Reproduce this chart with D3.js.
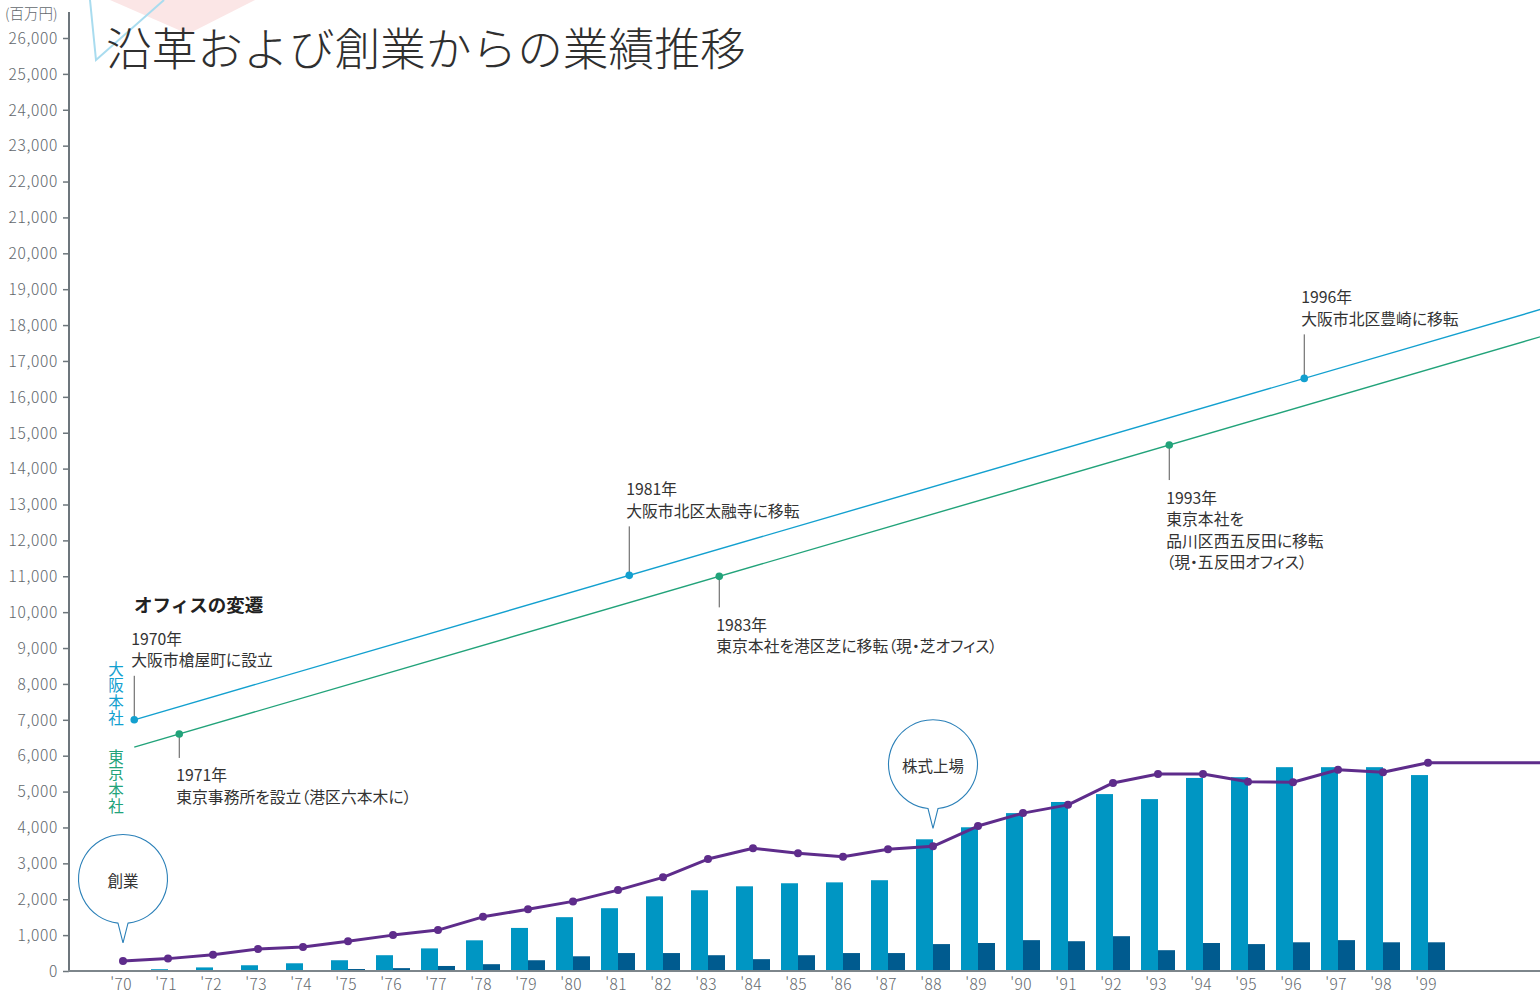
<!DOCTYPE html>
<html lang="ja">
<head>
<meta charset="utf-8">
<script src="https://cdn.jsdelivr.net/npm/d3@7"></script>
<style>
  html, body { margin: 0; padding: 0; background: #fff; }
  svg { display: block; font-family: "Noto Sans CJK JP", "Noto Sans", sans-serif; }
  .note { font-feature-settings: "palt"; }
</style>
</head>
<body>
<svg id="chart" width="1540" height="996"></svg>
<script>
// Fiscal years on the horizontal axis
const categories = ["'70","'71","'72","'73","'74","'75","'76","'77","'78","'79",
                    "'80","'81","'82","'83","'84","'85","'86","'87","'88","'89",
                    "'90","'91","'92","'93","'94","'95","'96","'97","'98","'99"];

// Light blue bars (百万円)
const seriesLight = [20, 50, 100, 160, 215, 300, 440, 630, 855, 1200,
                     1500, 1750, 2080, 2250, 2360, 2445, 2470, 2530, 3670, 4005,
                     4400, 4710, 4930, 4790, 5380, 5400, 5680, 5680, 5680, 5460];

// Dark blue bars (百万円)
const seriesDark = [10, 15, 20, 25, 25, 55, 80, 140, 190, 300,
                    410, 500, 500, 440, 330, 440, 500, 500, 750, 780,
                    860, 830, 970, 580, 780, 750, 800, 860, 800, 800];

// Purple line (百万円)
const seriesLine = [280, 345, 455, 615, 670, 830, 1000, 1140, 1510, 1720,
                    1940, 2255, 2610, 3120, 3420, 3280, 3185, 3390, 3475, 4040,
                    4400, 4630, 5240, 5490, 5490, 5275, 5260, 5610, 5540, 5805];

// Vertical axis ticks
const yTicks = [0, 1000, 2000, 3000, 4000, 5000, 6000, 7000, 8000, 9000, 10000,
                11000, 12000, 13000, 14000, 15000, 16000, 17000, 18000, 19000, 20000,
                21000, 22000, 23000, 24000, 25000, 26000];

// Office history timelines: [year, height on the value scale] at both ends
const osakaLine = [[1970, 7000], [2002, 18710]];
const tokyoLine = [[1970, 6240], [2002, 17950]];

// Office moves
const officeEvents = [
  { year: 1970, office: "osaka", lines: ["1970年", "大阪市槍屋町に設立"] },
  { year: 1971, office: "tokyo", lines: ["1971年", "東京事務所を設立（港区六本木に）"] },
  { year: 1981, office: "osaka", lines: ["1981年", "大阪市北区太融寺に移転"] },
  { year: 1983, office: "tokyo", lines: ["1983年", "東京本社を港区芝に移転（現・芝オフィス）"] },
  { year: 1993, office: "tokyo", lines: ["1993年", "東京本社を", "品川区西五反田に移転", "（現・五反田オフィス）"] },
  { year: 1996, office: "osaka", lines: ["1996年", "大阪市北区豊崎に移転"] }
];

// Milestone bubbles attached to a category
const milestones = [
  { category: "'70", label: "創業" },
  { category: "'88", label: "株式上場" }
];

// ---- layout & style ----
const W = 1540, H = 996;
const axisX = 69, baseY = 971;
const C = {
  light: "#0096c3", dark: "#005b8f", line: "#5e2c8b",
  osaka: "#13a0cf", tokyo: "#22a37a",
  axis: "#6d767c", tick: "#62686d", text: "#333333",
  bubble: "#2b80b8"
};
const leaderLen = { 1970: 44, 1971: 24, 1981: 49, 1983: 31, 1993: 35, 1996: 44 };

const svg = d3.select("#chart");

// decorative header shapes
svg.append("polygon")
  .attr("points", [[110, 0], [255, 0], [188, 34]].map(p => p.join(",")).join(" "))
  .attr("fill", "#fbe6e6");
svg.append("polyline")
  .attr("points", [[90, 0], [96, 60], [164, 0]].map(p => p.join(",")).join(" "))
  .attr("fill", "none").attr("stroke", "#a9dcef").attr("stroke-width", 2);

// scales
const y = d3.scaleLinear().domain([0, 26000]).range([baseY, 38]);
const step = 45;
const x = d3.scaleBand().domain(categories)
  .range([100.5, 100.5 + step * categories.length])
  .paddingInner(11 / 45).paddingOuter(11 / 90);
const sub = d3.scaleBand().domain(["light", "dark"]).range([0, x.bandwidth()]);
const xc = c => x(c) + x.bandwidth() / 2;
const timeX = d3.scaleLinear().domain([1970, 1999])
  .range([xc("'70") + 0.25 * step, xc("'99") + 0.25 * step]);

// title
svg.append("text")
  .attr("x", 106).attr("y", 46)
  .attr("dominant-baseline", "central")
  .attr("font-size", 45.7).attr("font-weight", 300)
  .attr("fill", "#2f2f2f")
  .text("沿革および創業からの業績推移");

// unit
svg.append("text")
  .attr("x", 5).attr("y", 12)
  .attr("dominant-baseline", "central")
  .attr("font-size", 14.5).attr("font-weight", 300).attr("fill", C.tick)
  .text("(百万円)");

// bars
const barG = svg.append("g");
categories.forEach((c, i) => {
  barG.append("rect")
    .attr("x", x(c) + sub("light")).attr("width", sub.bandwidth())
    .attr("y", y(seriesLight[i])).attr("height", baseY - y(seriesLight[i]))
    .attr("fill", C.light);
  barG.append("rect")
    .attr("x", x(c) + sub("dark")).attr("width", sub.bandwidth())
    .attr("y", y(seriesDark[i])).attr("height", baseY - y(seriesDark[i]))
    .attr("fill", C.dark);
});

// y axis
const yAxis = d3.axisLeft(y).tickValues(yTicks).tickSize(6).tickPadding(5)
  .tickFormat(d3.format(","));
const yg = svg.append("g").attr("transform", `translate(${axisX},0)`).call(yAxis);
yg.select(".domain").remove();
yg.selectAll(".tick line").attr("stroke", C.axis).attr("stroke-width", 1.5);
yg.selectAll(".tick text")
  .attr("fill", C.tick).attr("font-size", 15.5).attr("font-weight", 300)
  .attr("letter-spacing", 0.7)
  .attr("font-family", "'Noto Sans CJK JP', sans-serif")
  .attr("dy", "0.34em");
svg.append("line")
  .attr("x1", axisX).attr("x2", axisX)
  .attr("y1", y(0)).attr("y2", y(26000) - 26)
  .attr("stroke", C.axis).attr("stroke-width", 2);

// x axis
svg.append("line")
  .attr("x1", axisX - 1).attr("x2", W)
  .attr("y1", baseY).attr("y2", baseY)
  .attr("stroke", "#7d868b").attr("stroke-width", 2);
const xAxis = d3.axisBottom(x).tickSize(0).tickPadding(8);
const xg = svg.append("g").attr("transform", `translate(0,${baseY})`).call(xAxis);
xg.select(".domain").remove();
xg.selectAll(".tick text")
  .attr("fill", C.tick).attr("font-size", 15.5).attr("font-weight", 300)
  .attr("letter-spacing", 0.4)
  .attr("font-family", "'Noto Sans CJK JP', sans-serif")
  .attr("transform", "translate(-2,0)");

// purple line, continued flat to the right edge
const pts = categories.map((c, i) => [xc(c), y(seriesLine[i])]);
const linePts = pts.concat([[W, pts[pts.length - 1][1]]]);
svg.append("path")
  .attr("d", d3.line()(linePts))
  .attr("fill", "none").attr("stroke", C.line).attr("stroke-width", 3)
  .attr("stroke-linejoin", "round");
svg.append("g").selectAll("circle").data(pts).join("circle")
  .attr("cx", d => d[0]).attr("cy", d => d[1]).attr("r", 4)
  .attr("fill", C.line);

// office timelines
const lines = { osaka: osakaLine, tokyo: tokyoLine };
const lineAt = (office, yr) => {
  const [[y0, v0], [y1, v1]] = lines[office];
  return v0 + (v1 - v0) * (yr - y0) / (y1 - y0);
};
Object.entries(lines).forEach(([k, seg]) => {
  svg.append("line")
    .attr("x1", timeX(seg[0][0])).attr("y1", y(seg[0][1]))
    .attr("x2", timeX(seg[1][0])).attr("y2", y(seg[1][1]))
    .attr("stroke", C[k]).attr("stroke-width", 1.4);
});

svg.append("text")
  .attr("x", 134).attr("y", 604)
  .attr("dominant-baseline", "central")
  .attr("font-size", 18.5).attr("font-weight", 700).attr("fill", "#222")
  .text("オフィスの変遷");

// vertical office names
[["大阪本社", "osaka", 661], ["東京本社", "tokyo", 749]].forEach(([name, k, top]) => {
  svg.append("text")
    .attr("x", 116).attr("y", top)
    .attr("writing-mode", "vertical-rl")
    .style("text-orientation", "upright")
    .attr("letter-spacing", 1)
    .attr("font-size", 15.5).attr("fill", C[k])
    .text(name);
});

officeEvents.forEach(ev => {
  const cx = timeX(ev.year), cy = y(lineAt(ev.office, ev.year));
  const up = ev.office === "osaka";
  const len = leaderLen[ev.year];
  const end = up ? cy - len : cy + len;
  svg.append("line")
    .attr("x1", cx).attr("x2", cx).attr("y1", cy).attr("y2", end)
    .attr("stroke", "#555").attr("stroke-width", 1);
  svg.append("circle").attr("cx", cx).attr("cy", cy).attr("r", 3.8).attr("fill", C[ev.office]);
  const lh = 21.5;
  const n = ev.lines.length;
  ev.lines.forEach((s, i) => {
    const ty = up ? end - 16 - (n - 1 - i) * lh : end + 17 + i * lh;
    svg.append("text")
      .attr("class", "note")
      .attr("x", cx - 3).attr("y", ty)
      .attr("dominant-baseline", "central")
      .attr("font-size", 15.8).attr("fill", C.text)
      .text(s);
  });
});

// milestone bubbles
milestones.forEach(m => {
  const i = categories.indexOf(m.category);
  const tipX = xc(m.category), tipY = y(seriesLine[i]) - 18;
  const r = 44.5, cyB = tipY - 64, hw = 5;
  const by = cyB + Math.sqrt(r * r - hw * hw);
  const aL = Math.atan2(by - cyB, -hw), aR = Math.atan2(by - cyB, hw);
  const p = d3.path();
  p.moveTo(tipX, tipY);
  p.lineTo(tipX - hw, by);
  p.arc(tipX, cyB, r, aL, aR + 2 * Math.PI, false);
  p.closePath();
  svg.append("path").attr("d", p.toString())
    .attr("fill", "#fff").attr("stroke", C.bubble).attr("stroke-width", 1.1);
  svg.append("text")
    .attr("x", tipX).attr("y", cyB + 1)
    .attr("text-anchor", "middle").attr("dominant-baseline", "central")
    .attr("font-size", 15.5).attr("fill", C.text)
    .text(m.label);
});
</script>
</body>
</html>
